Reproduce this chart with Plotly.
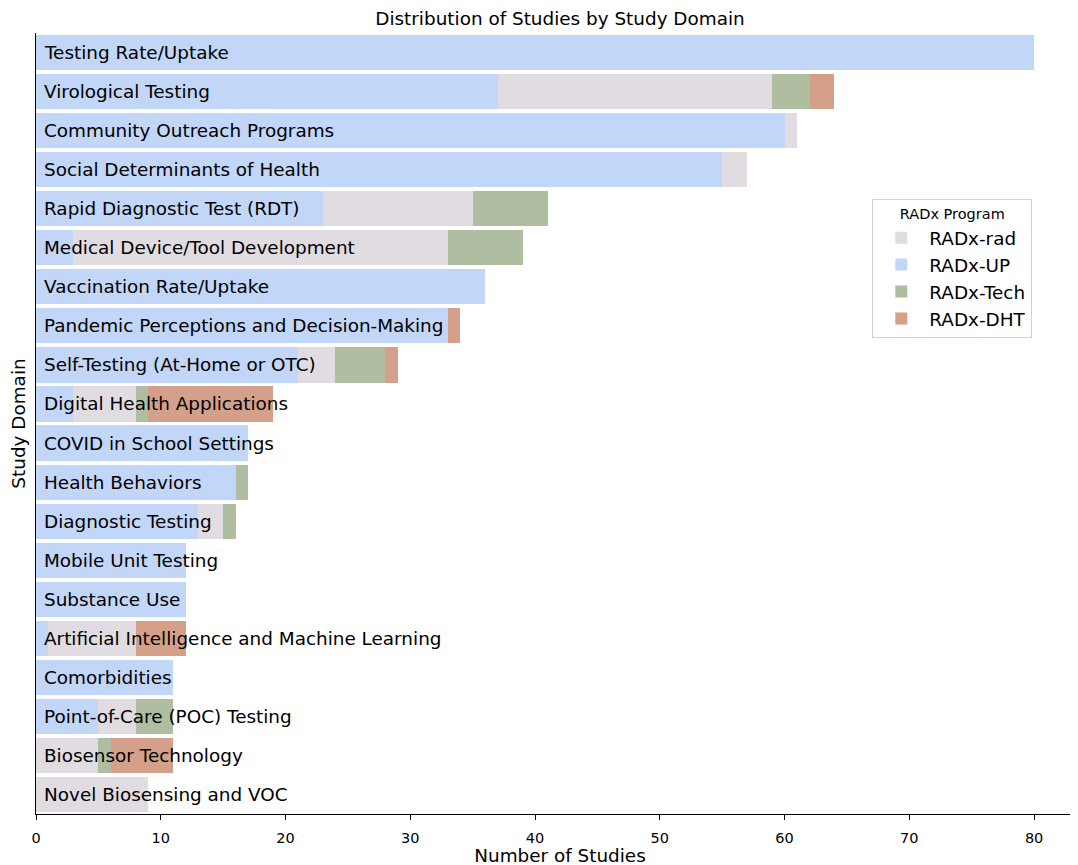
import plotly.graph_objects as go

categories = [
    "Testing Rate/Uptake",
    "Virological Testing",
    "Community Outreach Programs",
    "Social Determinants of Health",
    "Rapid Diagnostic Test (RDT)",
    "Medical Device/Tool Development",
    "Vaccination Rate/Uptake",
    "Pandemic Perceptions and Decision-Making",
    "Self-Testing (At-Home or OTC)",
    "Digital Health Applications",
    "COVID in School Settings",
    "Health Behaviors",
    "Diagnostic Testing",
    "Mobile Unit Testing",
    "Substance Use",
    "Artificial Intelligence and Machine Learning",
    "Comorbidities",
    "Point-of-Care (POC) Testing",
    "Biosensor Technology",
    "Novel Biosensing and VOC",
]

radx_up   = [80, 37, 60, 55, 23, 3, 36, 33, 21, 3, 17, 16, 13, 12, 12, 1, 11, 5, 0, 0]
radx_rad  = [0, 22, 1, 2, 12, 30, 0, 0, 3, 5, 0, 0, 2, 0, 0, 7, 0, 3, 5, 9]
radx_tech = [0, 3, 0, 0, 6, 6, 0, 0, 4, 1, 0, 1, 1, 0, 0, 0, 0, 3, 1, 0]
radx_dht  = [0, 2, 0, 0, 0, 0, 0, 1, 1, 10, 0, 0, 0, 0, 0, 4, 0, 0, 5, 0]

x_ticks = [0, 10, 20, 30, 40, 50, 60, 70, 80]

series = [
    ("RADx-UP", radx_up, "rgb(194,214,248)", 2),
    ("RADx-rad", radx_rad, "rgb(224,220,225)", 1),
    ("RADx-Tech", radx_tech, "rgb(175,190,160)", 3),
    ("RADx-DHT", radx_dht, "rgb(212,160,138)", 4),
]

font_family = "DejaVu Sans"

fig = go.Figure()
for name, vals, color, rank in series:
    fig.add_trace(go.Bar(
        y=categories, x=vals, name=name, orientation="h",
        marker=dict(color=color, line=dict(width=0)),
        legendrank=rank,
    ))

for cat in categories:
    fig.add_annotation(
        x=0, y=cat, xref="x", yref="y", text=cat, showarrow=False,
        xanchor="left", yanchor="middle", xshift=6,
        font=dict(family=font_family, size=18.4, color="black"),
    )

fig.update_layout(
    width=1078, height=865,
    barmode="stack", bargap=0.1,
    plot_bgcolor="white", paper_bgcolor="white",
    margin=dict(l=28, r=2, t=25, b=59, autoexpand=False),
    font=dict(family=font_family, color="black"),
    title=dict(text="Distribution of Studies by Study Domain", x=0.5, xanchor="center",
               xref="paper", y=1 - 11 / 865, yanchor="middle",
               font=dict(size=18.4, family=font_family)),
    legend=dict(
        x=0.798, y=0.787, xanchor="left", yanchor="top",
        bordercolor="rgb(210,210,210)", borderwidth=1, bgcolor="white",
        title=dict(text="RADx Program", side="top center", font=dict(size=14.5)),
        font=dict(size=18.4), traceorder="normal", itemwidth=46,
    ),
    showlegend=True,
)

fig.update_xaxes(
    range=[0, 84], tickvals=x_ticks, ticks="outside", ticklen=5, tickcolor="black",
    ticklabelstandoff=5,
    showline=True, linecolor="black", linewidth=1.2, showgrid=False, zeroline=False,
    tickfont=dict(size=14.5), automargin=False,
    title=dict(text="Number of Studies", font=dict(size=18.4), standoff=4),
)
fig.update_yaxes(
    categoryorder="array", categoryarray=categories,
    autorange=False, range=[19.5, -0.5], showticklabels=False, ticks="",
    showline=True, linecolor="black", linewidth=1.2, showgrid=False, zeroline=False,
    automargin=False,
    title=dict(text="Study Domain", font=dict(size=18.4), standoff=4),
)

fig.write_html("out.html")
